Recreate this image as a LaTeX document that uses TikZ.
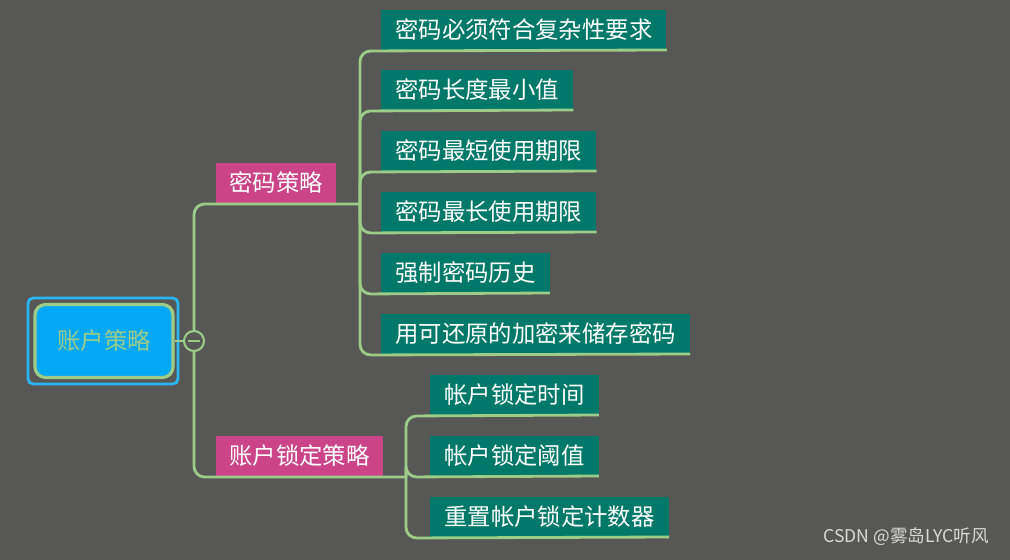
\documentclass[tikz,border=0pt]{standalone}
\usepackage{fontspec}
\setmainfont{Noto Sans CJK SC}
\usetikzlibrary{positioning}
\definecolor{bgc}{HTML}{575855}
\definecolor{leafc}{HTML}{00796B}
\definecolor{midc}{HTML}{CC4488}
\definecolor{linec}{HTML}{9CCC88}
\definecolor{rootc}{HTML}{03A9F4}
\definecolor{rimc}{HTML}{29B6F6}
\tikzset{
  leaf/.style={fill=leafc, text=white, anchor=south west, inner ysep=0pt, inner xsep=14*0.02cm, minimum height=40*0.02cm, font=\fontsize{13.3}{15}\selectfont},
  mid/.style={fill=midc, text=white, anchor=south west, inner ysep=0pt, inner xsep=13*0.02cm, minimum height=40*0.02cm, font=\fontsize{13.3}{15}\selectfont},
  link/.style={draw=linec, line width=1.6pt, rounded corners=6pt},
}
\begin{document}
\begin{tikzpicture}[x=0.02cm, y=-0.02cm]
	\fill[bgc] (0,0) rectangle (1010,560);
	\useasboundingbox (0,0) rectangle (1010,560);

	\node[draw=rimc, line width=1.6pt, rounded corners=3pt, minimum width=150*0.02cm, minimum height=86*0.02cm] (rim) at (103,341) {};
	\node[draw=linec, fill=rootc, line width=1.8pt, rounded corners=6pt, minimum width=138*0.02cm, minimum height=73*0.02cm, text=linec, font=\fontsize{13.3}{15}\selectfont] (root) at (104,341) {账户策略};
	\node[draw=linec, line width=1.2pt, circle, minimum size=20*0.02cm, inner sep=0pt] (fold) at (194,341) {};
	\draw[linec, line width=1.2pt] (fold.center) ++(-6,0) -- ++(12,0);
	\draw[link] (root.east) -- (fold.west);

	\node[mid] (pwd) at (216,203) {密码策略};
	\node[mid] (lock) at (216,476) {账户锁定策略};
	\coordinate (pwdend) at (360,204);
	\coordinate (lockend) at (406,477);
	\draw[link] (fold.north) -- (194,204) -- (pwdend);
	\draw[link] (fold.south) -- (194,477) -- (lockend);

	\node[leaf] (p1) at (381,50) {密码必须符合复杂性要求};
	\node[leaf] (p2) at (381,110) {密码长度最小值};
	\node[leaf] (p3) at (381,171) {密码最短使用期限};
	\node[leaf] (p4) at (381,232) {密码最长使用期限};
	\node[leaf] (p5) at (381,293) {强制密码历史};
	\node[leaf] (p6) at (381,354) {用可还原的加密来储存密码};
	\foreach \n/\y in {p1/51,p2/111,p3/172,p4/233,p5/294,p6/355}
		\draw[link] (pwdend) -- (360,\y) -- (\n.south east);

	\node[leaf] (l1) at (430,415) {帐户锁定时间};
	\node[leaf] (l2) at (430,476) {帐户锁定阈值};
	\node[leaf] (l3) at (430,537) {重置帐户锁定计数器};
	\foreach \n/\y in {l1/416,l2/477,l3/538}
		\draw[link] (lockend) -- (406,\y) -- (\n.south east);

	\node[text=white!85!black, anchor=south east, font=\fontsize{10}{12}\selectfont] (mark) at (995,552) {CSDN @雾岛LYC听风};
\end{tikzpicture}
\end{document}
